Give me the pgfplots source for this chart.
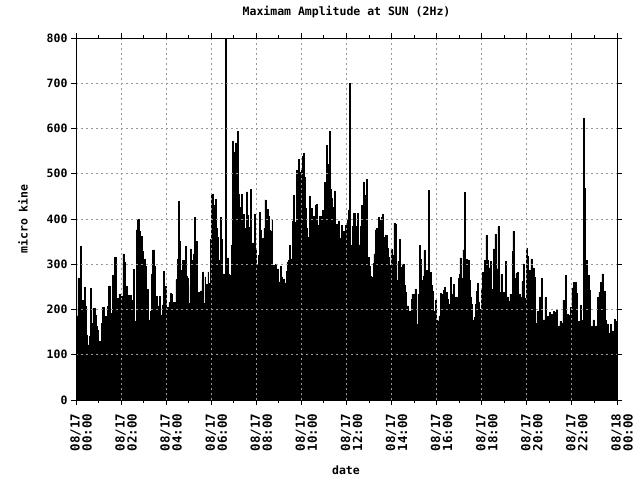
\documentclass[border=0pt]{standalone}
\usepackage{fontspec}
\setmainfont{DejaVu Sans Mono}
\usepackage{pgfplots}
\usepackage{pgfplotstable}
\pgfplotsset{compat=1.18}
\pgfplotstableread{
min amp
0 186
5 269
8 243
11 339
14 221
19 218
22 249
25 207
28 144
30 122
35 140
38 246
41 170
45 203
50 188
53 162
57 155
59 85
62 129
67 170
70 205
75 155
79 184
83 207
87 252
90 192
94 173
97 275
100 218
103 316
106 188
110 225
114 234
117 199
121 229
125 323
129 304
132 251
137 232
141 232
146 221
150 218
153 289
156 173
160 376
163 400
167 373
170 295
173 362
177 328
180 310
184 295
187 245
191 218
193 177
197 196
201 277
204 332
208 295
211 229
215 208
218 188
222 229
225 188
229 210
232 284
236 251
240 183
244 205
247 216
251 235
254 233
256 205
259 216
263 198
266 266
270 312
272 439
275 351
278 286
280 264
284 309
288 266
291 339
294 273
296 268
299 213
303 253
304 334
307 309
311 305
313 323
315 403
318 342
320 351
323 238
326 227
328 238
332 241
335 266
337 283
340 213
343 272
345 255
348 238
351 283
353 257
355 216
358 355
361 455
364 425
367 430
371 444
374 379
376 360
379 279
382 309
384 403
387 356
390 268
392 279
395 270
398 800
400 255
403 314
406 278
408 275
411 272
414 342
416 571
419 477
422 547
424 568
427 568
430 593
432 455
435 425
437 404
440 455
443 373
445 410
448 360
451 379
453 460
456 408
459 382
461 353
464 466
467 345
469 347
472 332
475 410
477 334
480 297
483 294
485 320
488 415
490 375
494 357
498 342
500 379
503 442
506 379
508 421
511 405
515 375
518 372
521 399
523 257
525 298
528 294
531 301
533 288
536 290
539 257
541 261
544 296
547 272
549 261
552 266
555 192
557 259
560 284
563 305
565 309
568 342
571 310
573 312
576 396
579 453
581 393
584 346
587 508
589 486
592 532
595 504
597 497
600 507
602 539
605 545
608 493
610 423
613 380
616 360
618 338
621 451
624 414
626 423
629 373
632 405
634 379
637 431
640 433
642 386
645 369
648 405
650 406
653 352
656 419
658 414
661 481
664 477
666 563
669 477
672 521
674 594
677 466
680 445
682 425
685 421
688 462
690 372
693 388
696 385
698 396
701 357
704 353
706 386
709 325
712 374
714 324
717 386
720 386
722 397
725 420
728 699
730 338
733 342
736 384
738 412
740 413
743 363
745 383
748 413
751 329
753 343
756 383
759 430
761 410
764 482
767 452
769 419
772 487
775 279
777 315
780 295
783 273
785 271
788 267
791 302
793 323
796 376
799 380
801 376
804 403
807 371
809 398
812 403
815 410
817 330
820 360
823 363
825 363
828 336
831 315
833 297
836 290
838 334
841 319
844 304
846 391
849 389
852 265
854 262
857 306
860 355
862 293
865 221
868 301
870 299
873 253
876 238
878 208
881 208
884 196
886 197
889 166
892 223
894 234
897 197
900 233
902 245
905 168
908 153
910 234
913 341
916 312
918 265
921 234
924 273
926 330
929 286
932 287
934 267
937 463
940 231
942 282
945 253
948 240
950 197
953 194
956 220
958 177
961 166
964 175
966 186
969 236
972 234
974 233
977 242
980 249
982 179
985 238
988 223
990 208
993 212
996 271
998 233
1001 189
1004 255
1006 228
1009 190
1012 228
1014 218
1017 268
1020 277
1022 314
1025 270
1028 240
1030 332
1033 459
1036 292
1038 310
1041 275
1044 308
1046 265
1049 227
1052 212
1054 177
1057 160
1060 183
1062 211
1065 240
1068 259
1070 216
1073 177
1075 201
1078 244
1081 282
1083 220
1086 308
1089 295
1091 363
1094 308
1097 280
1099 292
1102 306
1105 240
1107 245
1110 334
1113 286
1115 366
1118 218
1121 290
1123 383
1126 203
1129 238
1131 277
1134 236
1137 238
1139 233
1142 306
1145 205
1147 228
1150 183
1153 218
1155 234
1158 225
1161 329
1163 373
1166 245
1169 268
1171 280
1174 282
1177 223
1179 234
1182 221
1185 227
1187 262
1190 301
1193 181
1195 225
1198 336
1201 317
1203 275
1206 286
1209 253
1211 312
1214 270
1217 292
1219 271
1222 169
1225 160
1227 196
1230 197
1233 228
1235 214
1238 268
1241 170
1243 177
1246 176
1248 226
1251 142
1254 184
1256 146
1259 194
1262 157
1264 189
1267 155
1270 196
1272 155
1275 194
1278 201
1280 140
1283 162
1286 164
1288 174
1291 167
1294 170
1296 221
1299 214
1302 275
1304 161
1307 190
1310 187
1312 184
1315 205
1318 201
1320 248
1323 260
1326 243
1328 260
1331 235
1334 172
1336 174
1339 170
1342 209
1344 172
1347 176
1350 622
1352 467
1355 216
1358 308
1360 260
1363 275
1366 242
1368 159
1371 162
1374 161
1376 177
1379 155
1382 162
1384 164
1387 226
1390 137
1392 238
1395 260
1398 235
1400 279
1403 205
1406 241
1408 176
1411 140
1414 168
1416 113
1419 147
1422 167
1424 142
1427 153
1430 138
1432 179
1435 133
1438 174
1440 174
}\amptable
\begin{document}
\begin{tikzpicture}
\begin{axis}[
  scale only axis,
  width=541pt, height=362pt,
  xmin=0, xmax=1440, ymin=0, ymax=800,
  axis line style={line width=1pt},
  xtick={0,120,...,1440},
  minor xtick={60,180,...,1380},
  xticklabels={{08/17\\00:00},{08/17\\02:00},{08/17\\04:00},{08/17\\06:00},{08/17\\08:00},{08/17\\10:00},{08/17\\12:00},{08/17\\14:00},{08/17\\16:00},{08/17\\18:00},{08/17\\20:00},{08/17\\22:00},{08/18\\00:00}},
  ytick={0,100,...,800},
  tick align=outside,
  major tick length=5pt, minor tick length=3pt,
  tick style={line width=1pt, black},
  /pgf/number format/assume math mode=true,
  ticklabel style={font=\fontsize{11.5}{12}\selectfont\bfseries},
  xticklabel style={font=\fontsize{12.5}{12}\selectfont\bfseries, rotate=90, anchor=east, align=right, yshift=-5pt, xshift=-5pt},
  grid=major,
  major grid style={draw=gray!80, line width=1pt, dash pattern=on 2pt off 3pt},
  title={Maximam Amplitude at SUN (2Hz)},
  title style={font=\fontsize{11.5}{12}\selectfont\bfseries, at={(axis description cs:0.5,1.055)}, anchor=center},
  xlabel={date},
  xlabel style={font=\fontsize{11.5}{12}\selectfont\bfseries, at={(axis description cs:0.499,-0.193)}, anchor=center},
  ylabel={micro kine},
  ylabel style={font=\fontsize{11.5}{12}\selectfont\bfseries, at={(axis description cs:-0.098,0.5)}, anchor=center, rotate=0},
  axis on top,
]
\addplot[const plot, fill=black, draw=black, line width=0.5pt] table[x=min, y=amp] {\amptable} \closedcycle;
\coordinate (bl) at (rel axis cs:-0.1405,-0.221);
\coordinate (tr) at (rel axis cs:1.0425,1.105);
\end{axis}
\pgfresetboundingbox
\path[use as bounding box] (bl) rectangle (tr);
\end{tikzpicture}
\end{document}
